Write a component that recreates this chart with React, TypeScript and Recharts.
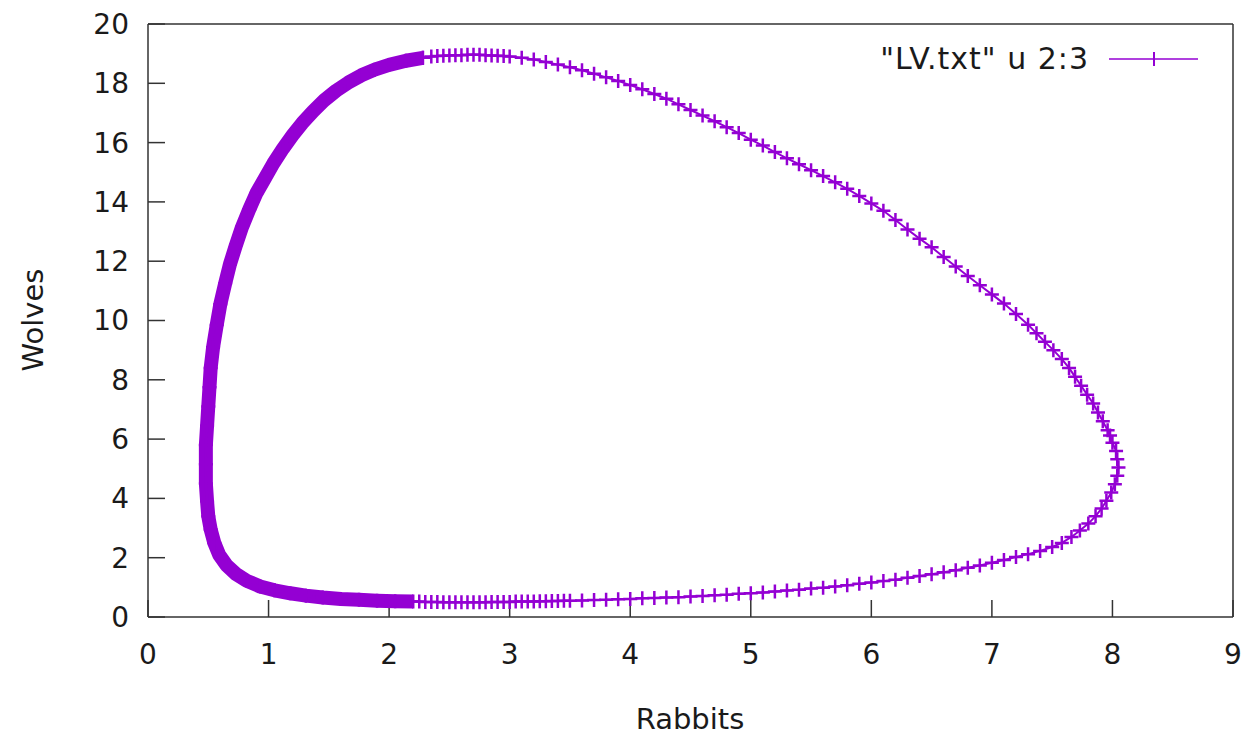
import React from 'react';
import { ScatterChart, Scatter, XAxis, YAxis } from 'recharts';

// Lotka-Volterra phase trajectory (x = rabbits, y = wolves)
// order: top-left going down the left side, along the bottom, up the right side, back along the top
const rabbits = [
  // left side (solid band)
  2.28, 2.14, 2.0, 1.88, 1.77, 1.66, 1.56, 1.46, 1.37, 1.28, 1.2, 1.12, 1.04, 0.97, 0.9, 0.84,
  0.78, 0.73, 0.68, 0.64, 0.6, 0.57, 0.54, 0.52, 0.51, 0.5, 0.49, 0.48, 0.48, 0.48, 0.49, 0.5,
  0.52, 0.55, 0.59, 0.65, 0.73, 0.82, 0.93, 1.05, 1.18, 1.31, 1.45, 1.6, 1.75, 1.9, 2.05, 2.2,
  // bottom
  2.25, 2.3, 2.35, 2.4, 2.45, 2.5, 2.55, 2.6, 2.65, 2.7, 2.75, 2.8, 2.85, 2.9, 2.95, 3.0,
  3.05, 3.1, 3.15, 3.2, 3.25, 3.3, 3.35, 3.4, 3.45, 3.5,
  3.6, 3.7, 3.8, 3.9, 4.0, 4.1, 4.2, 4.3, 4.4, 4.5, 4.6, 4.7, 4.8, 4.9, 5.0, 5.1, 5.2, 5.3,
  5.4, 5.5, 5.6, 5.7, 5.8, 5.9, 6.0, 6.1, 6.2, 6.3, 6.4, 6.5, 6.6, 6.7, 6.8, 6.9, 7.0, 7.1,
  7.2, 7.3, 7.4, 7.5,
  // right side
  7.58, 7.66, 7.73, 7.8, 7.86, 7.91, 7.95, 7.99, 8.02, 8.04, 8.05, 8.04, 8.03, 8.0, 7.98,
  7.96, 7.92, 7.88, 7.84, 7.79, 7.74, 7.69, 7.64, 7.58, 7.51, 7.44, 7.37,
  // top
  7.3, 7.2, 7.1, 7.0, 6.9, 6.8, 6.7, 6.6, 6.5, 6.4, 6.3, 6.2, 6.1, 6.0, 5.9, 5.8, 5.7, 5.6,
  5.5, 5.4, 5.3, 5.2, 5.1, 5.0, 4.9, 4.8, 4.7, 4.6, 4.5, 4.4, 4.3, 4.2, 4.1, 4.0, 3.9, 3.8,
  3.7, 3.6, 3.5, 3.4, 3.3, 3.2, 3.1,
  3.0, 2.95, 2.9, 2.85, 2.8, 2.75, 2.7, 2.65, 2.6, 2.55, 2.5, 2.45, 2.4, 2.35, 2.28,
];

const wolves = [
  // left side (solid band)
  18.86, 18.76, 18.62, 18.46, 18.27, 18.02, 17.75, 17.42, 17.06, 16.66, 16.25, 15.8, 15.3, 14.8,
  14.3, 13.75, 13.15, 12.55, 11.9, 11.25, 10.55, 9.85, 9.1, 8.4, 7.75, 7.1, 6.45, 5.8, 5.15,
  4.5, 3.9, 3.4, 2.95, 2.5, 2.1, 1.75, 1.45, 1.22, 1.03, 0.9, 0.8, 0.72, 0.66, 0.61, 0.58,
  0.55, 0.53, 0.52,
  // bottom
  0.52, 0.51, 0.51, 0.51, 0.5, 0.5, 0.5, 0.5, 0.5, 0.5, 0.5, 0.5, 0.51, 0.51, 0.51, 0.51,
  0.52, 0.52, 0.52, 0.52, 0.53, 0.53, 0.54, 0.54, 0.55, 0.55,
  0.56, 0.57, 0.58, 0.6, 0.61, 0.63, 0.64, 0.66, 0.67, 0.69, 0.71, 0.73, 0.75, 0.78, 0.8, 0.83,
  0.86, 0.89, 0.92, 0.96, 0.99, 1.03, 1.07, 1.12, 1.16, 1.21, 1.26, 1.32, 1.38, 1.44, 1.51,
  1.58, 1.66, 1.74, 1.83, 1.92, 2.02, 2.12, 2.23, 2.36,
  // right side
  2.5, 2.7, 2.92, 3.15, 3.4, 3.66, 3.92, 4.2, 4.48, 4.76, 5.04, 5.32, 5.6, 5.88, 6.12,
  6.3, 6.6, 6.9, 7.2, 7.5, 7.8, 8.1, 8.4, 8.7, 9.0, 9.28, 9.57,
  // top
  9.86, 10.22, 10.57, 10.88, 11.19, 11.5, 11.82, 12.14, 12.47, 12.76, 13.07, 13.39, 13.7, 13.95,
  14.2, 14.44, 14.66, 14.87, 15.07, 15.27, 15.47, 15.68, 15.9, 16.1, 16.32, 16.52, 16.72, 16.91,
  17.1, 17.29, 17.48, 17.64, 17.8, 17.94, 18.08, 18.2, 18.32, 18.44, 18.54, 18.63, 18.72, 18.8,
  18.86,
  18.9, 18.92, 18.93, 18.94, 18.95, 18.96, 18.96, 18.96, 18.95, 18.95, 18.94, 18.93, 18.92,
  18.9, 18.86,
];

// the first samples are so close together that the markers merge into a solid band
const solidCount = 48;

const xTicks = [0, 1, 2, 3, 4, 5, 6, 7, 8, 9];
const yTicks = [0, 2, 4, 6, 8, 10, 12, 14, 16, 18, 20];
const seriesName = '"LV.txt" u 2:3';

const PURPLE = '#9400D3';
const INK = '#1a1a1a';
const FONT = '"DejaVu Sans", Verdana, sans-serif';

const points = rabbits.map((x, i) => ({ x, y: wolves[i] }));
const solidPoints = points.slice(0, solidCount);

const Plus = (props: any) => {
  const { cx, cy } = props;
  if (cx == null || cy == null) return <g />;
  return (
    <path
      d={`M${cx - 7},${cy}H${cx + 7}M${cx},${cy - 7}V${cy + 7}`}
      stroke={PURPLE}
      strokeWidth={2.5}
      fill="none"
    />
  );
};

const Nothing = () => <g />;

const App = () => {
  const W = 1234;
  const H = 730;

  return (
    <div style={{ position: 'relative', width: W, height: H }}>
      <style>{'html, body { overflow: hidden; }'}</style>
      <ScatterChart
        width={W}
        height={H}
        margin={{ top: 15, right: 8, bottom: 0, left: 0 }}
        style={{ fontFamily: FONT }}
      >
        <XAxis
          xAxisId="b"
          type="number"
          dataKey="x"
          domain={[0, 9]}
          ticks={xTicks}
          height={121}
          tickSize={-17}
          tickMargin={44}
          stroke="#333"
          strokeWidth={1.5}
          tick={{ fill: INK, fontSize: 28, fontFamily: FONT }}
          label={{
            content: () => (
              <text x={682} y={721} textAnchor="middle" fill={INK} fontSize={29} fontFamily={FONT}>
                Rabbits
              </text>
            ),
          }}
        />
        <XAxis
          xAxisId="t"
          orientation="top"
          type="number"
          domain={[0, 9]}
          ticks={xTicks}
          height={1}
          tickSize={-17}
          stroke="#333"
          strokeWidth={1.5}
          tick={false}
        />
        <YAxis
          yAxisId="l"
          type="number"
          dataKey="y"
          domain={[0, 20]}
          ticks={yTicks}
          width={140}
          tickSize={-17}
          tickMargin={36}
          stroke="#333"
          strokeWidth={1.5}
          tick={{ fill: INK, fontSize: 28, fontFamily: FONT }}
          label={{
            content: () => (
              <text
                x={35}
                y={312}
                transform="rotate(-90 35 312)"
                textAnchor="middle"
                fill={INK}
                fontSize={29}
                fontFamily={FONT}
              >
                Wolves
              </text>
            ),
          }}
        />
        <YAxis
          yAxisId="r"
          orientation="right"
          type="number"
          domain={[0, 20]}
          ticks={yTicks}
          width={1}
          tickSize={-17}
          stroke="#333"
          strokeWidth={1.5}
          tick={false}
        />
        <Scatter
          xAxisId="b"
          yAxisId="l"
          data={solidPoints}
          line={{ stroke: PURPLE, strokeWidth: 14, strokeLinejoin: 'round' }}
          shape={Nothing}
          isAnimationActive={false}
        />
        <Scatter
          xAxisId="b"
          yAxisId="l"
          name={seriesName}
          data={points}
          line={{ stroke: PURPLE, strokeWidth: 2 }}
          shape={Plus}
          isAnimationActive={false}
        />
      </ScatterChart>

      {/* key, top right inside the frame */}
      <div
        style={{
          position: 'absolute',
          top: 36,
          left: 850,
          width: 340,
          display: 'flex',
          alignItems: 'center',
          justifyContent: 'flex-end',
          fontFamily: FONT,
          fontSize: 30,
          letterSpacing: 1,
          lineHeight: '30px',
          color: INK,
        }}
      >
        <span>{seriesName}</span>
        <svg width={89} height={16} style={{ marginLeft: 20 }}>
          <line x1={0} y1={8} x2={89} y2={8} stroke={PURPLE} strokeWidth={1.5} />
          <path d="M45,1V15" stroke={PURPLE} strokeWidth={2} />
        </svg>
      </div>
    </div>
  );
};

export default App;
